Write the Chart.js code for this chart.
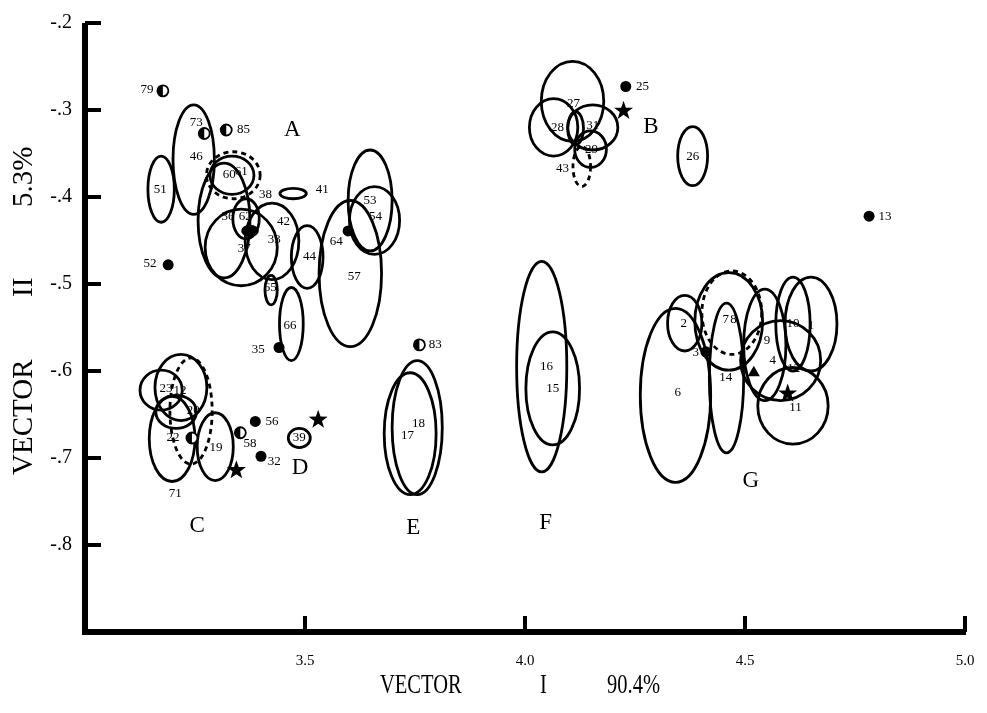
<!DOCTYPE html>
<html><head><meta charset="utf-8">
<script src="https://cdn.jsdelivr.net/npm/chart.js@4.4.0/dist/chart.umd.min.js"></script>
<style>html,body{margin:0;padding:0;background:#fff}</style>
</head><body>
<canvas id="c" width="987" height="713"></canvas>
<script>
// ---- ellipses (centre, half-width, half-height in data units; dashed flag)
const ellX  = [3.173,3.247,3.334,3.337,3.473,3.316,3.355,3.425,3.366,3.423,3.505,3.648,3.658,3.603,3.469,
               3.173,3.218,3.207,3.198,3.241,3.296,3.487,
               3.755,3.739,
               4.038,4.063,
               4.108,4.065,4.154,4.115,4.149,4.129,4.381,
               4.342,4.363,4.463,4.470,4.458,4.545,4.609,4.650,4.581,4.609];
const ellY  = [-0.391,-0.357,-0.375,-0.375,-0.396,-0.427,-0.458,-0.451,-0.425,-0.507,-0.469,-0.404,-0.427,-0.488,-0.546,
               -0.622,-0.619,-0.647,-0.678,-0.646,-0.687,-0.677,
               -0.665,-0.672,
               -0.595,-0.620,
               -0.290,-0.320,-0.320,-0.321,-0.345,-0.365,-0.353,
               -0.628,-0.545,-0.543,-0.533,-0.608,-0.570,-0.546,-0.546,-0.588,-0.640];
const ellRX = [0.030,0.047,0.050,0.061,0.030,0.059,0.082,0.061,0.030,0.014,0.036,0.050,0.057,0.071,0.027,
               0.048,0.059,0.046,0.052,0.048,0.041,0.025,
               0.057,0.059,
               0.057,0.061,
               0.071,0.055,0.057,0.018,0.036,0.020,0.034,
               0.080,0.039,0.077,0.068,0.039,0.048,0.039,0.059,0.091,0.080];
const ellRY = [0.038,0.063,0.022,0.027,0.006,0.066,0.044,0.044,0.023,0.017,0.036,0.058,0.039,0.084,0.042,
               0.023,0.038,0.019,0.049,0.061,0.039,0.011,
               0.077,0.070,
               0.121,0.065,
               0.046,0.033,0.026,0.019,0.021,0.023,0.034,
               0.100,0.032,0.056,0.048,0.086,0.064,0.054,0.054,0.046,0.044];
const ellDash = [0,0,0,1,0,0,0,0,0,0,0,0,0,0,0,
                 0,0,0,0,1,0,0,
                 0,0,
                 0,0,
                 0,0,0,0,0,1,0,
                 0,0,0,1,0,0,0,0,0,0];

// ---- filled blob (solid ellipse)
const blobX = [3.375], blobY = [-0.439], blobRX = [0.020], blobRY = [0.007];

// ---- point markers
const filledX = [3.189,3.598,3.441,3.387,3.400,4.229,4.782,4.411];
const filledY = [-0.478,-0.439,-0.573,-0.658,-0.698,-0.273,-0.422,-0.578];
const halfX = [3.177,3.271,3.321,3.243,3.353,3.760];
const halfY = [-0.278,-0.327,-0.323,-0.677,-0.671,-0.570];
const starX = [3.344,3.530,4.224,4.597];
const starY = [-0.714,-0.656,-0.301,-0.626];
const triX = [4.520];
const triY = [-0.602];

// ---- number labels
const labelText = ['79','73','85','46','51','60','61','38','41','36','62','42','37','33','44','64','53','54','57','65','66','35','52',
                   '23','12','20','22','19','71','58','56','32','39',
                   '83','17','18','16','15',
                   '27','28','31','29','43','25','26','13',
                   '2','6','7','8','3','14','9','4','10','1','12','11'];
const labelX = [3.141,3.253,3.360,3.253,3.171,3.328,3.355,3.410,3.539,3.325,3.364,3.451,3.362,3.430,3.510,3.571,3.648,3.660,3.612,3.421,3.466,3.394,3.148,
                3.184,3.216,3.246,3.200,3.298,3.205,3.375,3.425,3.430,3.487,
                3.796,3.733,3.758,4.049,4.063,
                4.110,4.074,4.154,4.151,4.085,4.267,4.381,4.818,
                4.361,4.347,4.456,4.474,4.388,4.456,4.550,4.563,4.609,4.650,4.611,4.615];
const labelY = [-0.276,-0.315,-0.323,-0.353,-0.391,-0.374,-0.371,-0.397,-0.392,-0.423,-0.422,-0.428,-0.459,-0.449,-0.469,-0.451,-0.404,-0.423,-0.492,-0.504,-0.548,-0.575,-0.476,
                -0.620,-0.623,-0.646,-0.677,-0.688,-0.741,-0.683,-0.658,-0.704,-0.677,
                -0.570,-0.674,-0.660,-0.595,-0.620,
                -0.293,-0.320,-0.318,-0.345,-0.367,-0.273,-0.353,-0.423,
                -0.546,-0.625,-0.541,-0.541,-0.579,-0.608,-0.565,-0.588,-0.545,-0.548,-0.597,-0.642];

// ---- group letters
const groupText = ['A','B','C','D','E','F','G'];
const groupX = [3.471,4.286,3.255,3.489,3.746,4.047,4.513];
const groupY = [-0.323,-0.319,-0.778,-0.711,-0.780,-0.775,-0.726];

// ---- ticks
const xTicks = [3.5,4.0,4.5,5.0];
const yTicks = [-0.2,-0.3,-0.4,-0.5,-0.6,-0.7,-0.8];

const SERIF = '"Liberation Serif","DejaVu Serif",serif';

const drawPlugin = {
  id: 'draw',
  afterDatasetsDraw(chart) {
    const ctx = chart.ctx, xs = chart.scales.x, ys = chart.scales.y;
    const px = v => xs.getPixelForValue(v), py = v => ys.getPixelForValue(v);
    ctx.save();
    // ellipses
    ctx.strokeStyle = '#000';
    ctx.lineWidth = 2.8;
    for (let i = 0; i < ellX.length; i++) {
      const cx = px(ellX[i]), cy = py(ellY[i]);
      const rx = Math.abs(px(ellX[i] + ellRX[i]) - cx), ry = Math.abs(py(ellY[i] + ellRY[i]) - cy);
      ctx.setLineDash(ellDash[i] ? [5, 4] : []);
      ctx.beginPath(); ctx.ellipse(cx, cy, rx, ry, 0, 0, Math.PI * 2); ctx.stroke();
    }
    ctx.setLineDash([]);
    ctx.fillStyle = '#000';
    for (let i = 0; i < blobX.length; i++) {
      const cx = px(blobX[i]), cy = py(blobY[i]);
      const rx = Math.abs(px(blobX[i] + blobRX[i]) - cx), ry = Math.abs(py(blobY[i] + blobRY[i]) - cy);
      ctx.beginPath(); ctx.ellipse(cx, cy, rx, ry, 0, 0, Math.PI * 2); ctx.fill();
    }
    // half-filled circles
    for (let i = 0; i < halfX.length; i++) {
      const cx = px(halfX[i]), cy = py(halfY[i]), r = 5.5;
      ctx.fillStyle = '#fff';
      ctx.beginPath(); ctx.arc(cx, cy, r, 0, Math.PI * 2); ctx.fill();
      ctx.fillStyle = '#000';
      ctx.beginPath(); ctx.arc(cx, cy, r, Math.PI / 2, Math.PI * 1.5); ctx.closePath(); ctx.fill();
      ctx.lineWidth = 1.8;
      ctx.beginPath(); ctx.arc(cx, cy, r, 0, Math.PI * 2); ctx.stroke();
    }
    // stars
    ctx.fillStyle = '#000';
    for (let i = 0; i < starX.length; i++) {
      const cx = px(starX[i]), cy = py(starY[i]), R = 10, r = 4;
      ctx.beginPath();
      for (let k = 0; k < 10; k++) {
        const a = -Math.PI / 2 + k * Math.PI / 5, rr = k % 2 ? r : R;
        const X = cx + rr * Math.cos(a), Y = cy + rr * Math.sin(a);
        k ? ctx.lineTo(X, Y) : ctx.moveTo(X, Y);
      }
      ctx.closePath(); ctx.fill();
    }
    // number labels
    ctx.font = '13px ' + SERIF;
    ctx.textAlign = 'center'; ctx.textBaseline = 'middle';
    for (let i = 0; i < labelText.length; i++) ctx.fillText(labelText[i], px(labelX[i]), py(labelY[i]));
    ctx.font = '23px ' + SERIF;
    for (let i = 0; i < groupText.length; i++) ctx.fillText(groupText[i], px(groupX[i]), py(groupY[i]));
    // axes
    const L = chart.chartArea.left, B = chart.chartArea.bottom, T = chart.chartArea.top, Rr = chart.chartArea.right;
    ctx.fillRect(L - 3, T, 6, B - T + 3);
    ctx.fillRect(L - 3, B - 3, Rr - L + 4, 6);
    yTicks.forEach(v => ctx.fillRect(L, py(v) - 2, 16, 4));
    xTicks.forEach(v => ctx.fillRect(px(v) - 2, B - 16, 4, 16));
    // axis titles
    ctx.textAlign = 'left'; ctx.textBaseline = 'alphabetic';
    ctx.save();
    ctx.font = '27px ' + SERIF;
    ctx.translate(0, 693); ctx.scale(0.76, 1);
    ctx.fillText('VECTOR', 380 / 0.76, 0);
    ctx.fillText('I', 540 / 0.76, 0);
    ctx.fillText('90.4%', 607 / 0.76, 0);
    ctx.restore();
    ctx.save();
    ctx.font = '29px ' + SERIF;
    ctx.translate(32, 0); ctx.rotate(-Math.PI / 2);
    ctx.fillText('VECTOR', -475, 0);
    ctx.fillText('II', -297, 0);
    ctx.fillText('5.3%', -207, 0);
    ctx.restore();
    ctx.restore();
  }
};

new Chart(document.getElementById('c'), {
  type: 'scatter',
  data: {
    datasets: [
      { data: filledX.map((x, i) => ({ x, y: filledY[i] })), pointStyle: 'circle', pointRadius: 5.5,
        backgroundColor: '#000', borderColor: '#000', borderWidth: 0 },
      { data: triX.map((x, i) => ({ x, y: triY[i] })), pointStyle: 'triangle', pointRadius: 7,
        backgroundColor: '#000', borderColor: '#000', borderWidth: 0 }
    ]
  },
  options: {
    responsive: false, animation: false,
    layout: { padding: { top: 23, right: 22, left: 0, bottom: 0 } },
    plugins: { legend: { display: false }, tooltip: { enabled: false } },
    scales: {
      x: {
        type: 'linear', min: 3, max: 5,
        afterFit: s => { s.height = 81; s.paddingLeft = 0; s.paddingRight = 0; },
        grid: { display: false, drawTicks: false }, border: { display: false },
        afterBuildTicks: s => { s.ticks = xTicks.map(v => ({ value: v })); },
        ticks: { padding: 20, color: '#000', font: { family: SERIF, size: 15 }, callback: v => v.toFixed(1), maxRotation: 0 }
      },
      y: {
        type: 'linear', min: -0.9, max: -0.2,
        afterFit: s => { s.width = 85; s.paddingTop = 0; s.paddingBottom = 0; },
        grid: { display: false, drawTicks: false }, border: { display: false },
        afterBuildTicks: s => { s.ticks = yTicks.map(v => ({ value: v })); },
        ticks: { padding: 13, color: '#000', font: { family: SERIF, size: 20 },
                 callback: v => '-.' + Math.round(-v * 10) }
      }
    }
  },
  plugins: [drawPlugin]
});
</script>
</body></html>
